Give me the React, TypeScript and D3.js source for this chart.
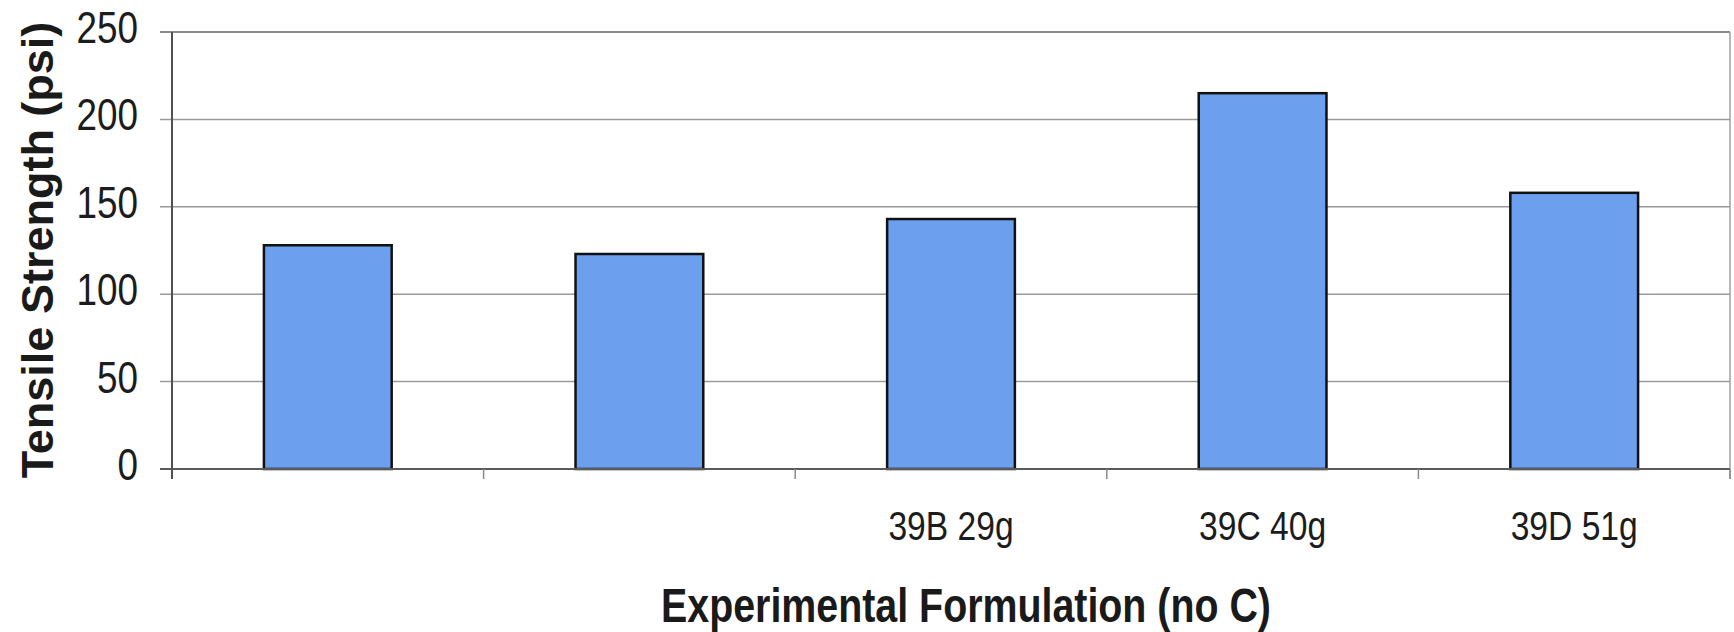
import * as d3 from 'd3'
import { useEffect, useRef } from 'react'

// Tensile strength per formulation
const categoryLabels = ['', '', '39B 29g', '39C 40g', '39D 51g']
const tensileStrength = [128, 123, 143, 215, 158]
const yTicks = [0, 50, 100, 150, 200, 250]

const WIDTH = 1734
const HEIGHT = 632
const NARROW = 0.82 // Arial Narrow look: Liberation Sans squeezed horizontally

export default function App() {
  const svgRef = useRef<SVGSVGElement>(null)

  useEffect(() => {
    if (!svgRef.current) return

    const margin = { top: 32, right: 4, bottom: 163, left: 172 }
    const innerW = WIDTH - margin.left - margin.right
    const innerH = HEIGHT - margin.top - margin.bottom

    const indices = categoryLabels.map((_, i) => i)

    const xScale = d3
      .scaleBand<number>()
      .domain(indices)
      .range([0, innerW])
      .paddingInner(0.59)
      .paddingOuter(0.295)

    const yScale = d3.scaleLinear().domain([0, 250]).range([innerH, 0])

    const step = xScale.step()
    const pad = (step * xScale.paddingInner()) / 2

    // Clear previous content
    d3.select(svgRef.current).selectAll('*').remove()

    const svg = d3
      .select(svgRef.current)
      .attr('width', WIDTH)
      .attr('height', HEIGHT)

    svg.append('rect').attr('width', WIDTH).attr('height', HEIGHT).attr('fill', '#ffffff')

    const g = svg.append('g').attr('transform', `translate(${margin.left},${margin.top})`)

    // Horizontal grid lines + outside tick marks
    g.selectAll('.grid')
      .data(yTicks)
      .enter()
      .append('line')
      .attr('class', 'grid')
      .attr('x1', -12)
      .attr('x2', innerW)
      .attr('y1', (d: number) => yScale(d))
      .attr('y2', (d: number) => yScale(d))
      .attr('stroke', (d: number) => (d === 250 ? '#8a8a8a' : '#9a9a9a'))
      .attr('stroke-width', (d: number) => (d === 250 ? 2 : 1.5))

    // Right border
    g.append('line')
      .attr('x1', innerW)
      .attr('x2', innerW)
      .attr('y1', 0)
      .attr('y2', innerH + 10)
      .attr('stroke', '#a0a0a0')
      .attr('stroke-width', 1.5)

    // Y tick labels
    g.selectAll('.ylabel')
      .data(yTicks)
      .enter()
      .append('text')
      .attr('class', 'ylabel')
      .attr('transform', (d: number) => `translate(-34,${yScale(d) + 11}) scale(${NARROW},1)`)
      .attr('text-anchor', 'end')
      .attr('font-family', '"Liberation Sans", Arial, sans-serif')
      .attr('font-size', 45)
      .attr('fill', '#1c1c1c')
      .text((d: number) => d)

    // Bars
    g.selectAll('.bar')
      .data(tensileStrength)
      .enter()
      .append('rect')
      .attr('class', 'bar')
      .attr('x', (_: number, i: number) => xScale(i) as number)
      .attr('y', (d: number) => yScale(d))
      .attr('width', xScale.bandwidth())
      .attr('height', (d: number) => innerH - yScale(d))
      .attr('fill', '#6c9fee')
      .attr('stroke', '#111111')
      .attr('stroke-width', 2.5)

    // X axis baseline
    g.append('line')
      .attr('x1', -12)
      .attr('x2', innerW)
      .attr('y1', innerH)
      .attr('y2', innerH)
      .attr('stroke', '#5a5a5a')
      .attr('stroke-width', 2)

    // Category boundary ticks
    g.selectAll('.xtick')
      .data(d3.range(indices.length + 1))
      .enter()
      .append('line')
      .attr('class', 'xtick')
      .attr('x1', (i: number) => (i < indices.length ? (xScale(i) as number) - pad : innerW))
      .attr('x2', (i: number) => (i < indices.length ? (xScale(i) as number) - pad : innerW))
      .attr('y1', innerH)
      .attr('y2', innerH + 10)
      .attr('stroke', '#8a8a8a')
      .attr('stroke-width', 1.5)

    // Y axis line
    g.append('line')
      .attr('x1', 0)
      .attr('x2', 0)
      .attr('y1', 0)
      .attr('y2', innerH + 10)
      .attr('stroke', '#505050')
      .attr('stroke-width', 2)

    // Category labels
    g.selectAll('.xlabel')
      .data(categoryLabels)
      .enter()
      .append('text')
      .attr('class', 'xlabel')
      .attr(
        'transform',
        (_: string, i: number) =>
          `translate(${(xScale(i) as number) + xScale.bandwidth() / 2},${innerH + 71}) scale(${NARROW},1)`
      )
      .attr('text-anchor', 'middle')
      .attr('font-family', '"Liberation Sans", Arial, sans-serif')
      .attr('font-size', 41)
      .attr('fill', '#1c1c1c')
      .text((d: string) => d)

    // X axis title
    svg
      .append('text')
      .attr('transform', `translate(966,622) scale(${NARROW},1)`)
      .attr('text-anchor', 'middle')
      .attr('font-family', '"Liberation Sans", Arial, sans-serif')
      .attr('font-weight', 'bold')
      .attr('font-size', 48)
      .attr('fill', '#1a1a1a')
      .text('Experimental Formulation (no C)')

    // Y axis title
    svg
      .append('text')
      .attr('transform', 'translate(53,250) rotate(-90)')
      .attr('text-anchor', 'middle')
      .attr('font-family', '"Liberation Sans", Arial, sans-serif')
      .attr('font-weight', 'bold')
      .attr('font-size', 45)
      .attr('fill', '#1a1a1a')
      .text('Tensile Strength (psi)')
  }, [])

  return (
    <div style={{ position: 'absolute', left: 0, top: 0 }}>
      <svg ref={svgRef} style={{ display: 'block' }} />
    </div>
  )
}
